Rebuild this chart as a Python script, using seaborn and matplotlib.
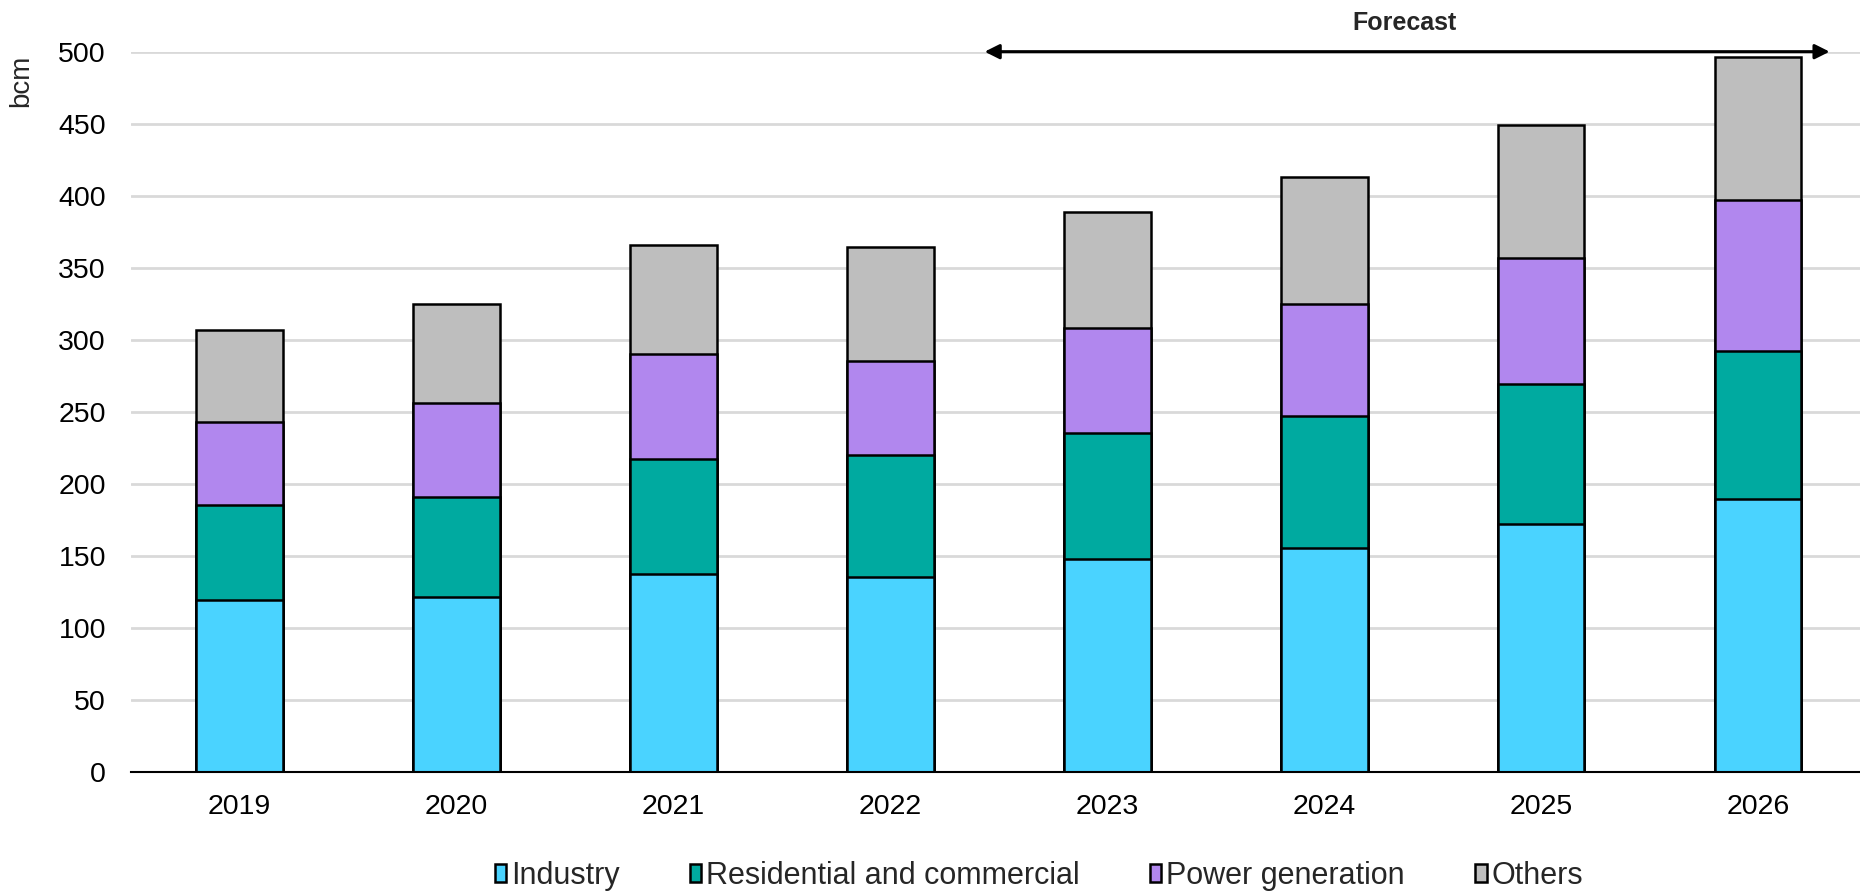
import matplotlib
matplotlib.use("Agg")
import matplotlib.pyplot as plt
from matplotlib.patches import Patch
import seaborn as sns
import numpy as np
import pandas as pd

years = ["2019", "2020", "2021", "2022", "2023", "2024", "2025", "2026"]
industry = [119, 121, 137, 135, 148, 155, 172, 189]
residential = [66, 70, 80, 85, 87, 92, 97, 103]
power = [58, 65, 73, 65, 73, 78, 88, 105]
others = [64, 69, 76, 79, 81, 88, 92, 99]

series_names = ["Industry", "Residential and commercial", "Power generation", "Others"]
colors = ["#4AD3FF", "#00AAA0", "#B187EE", "#BEBEBE"]

sns.set_style("white")
plt.rcParams["font.family"] = ["Liberation Sans", "DejaVu Sans"]

fig = plt.figure(figsize=(18.6, 8.91), dpi=100)
ax = fig.add_axes([0.0704, 0.134, 0.9296, 0.808])

# stacked bars: draw cumulative totals from the top layer down
stack = np.cumsum(np.array([industry, residential, power, others]), axis=0)
for i in range(3, -1, -1):
    df = pd.DataFrame({"year": years, "value": stack[i]})
    sns.barplot(data=df, x="year", y="value", color=colors[i], saturation=1,
                edgecolor="black", linewidth=1.8, width=0.4, ax=ax, zorder=3)

ax.set_ylim(0, 500)
ax.set_xlim(-0.5, 7.47)
ax.set_yticks(np.arange(0, 501, 50))
ax.yaxis.grid(True, color="#D9D9D9", linewidth=2, zorder=0)
ax.set_axisbelow(True)
for s in ["top", "right", "left"]:
    ax.spines[s].set_visible(False)
ax.spines["bottom"].set_color("black")
ax.spines["bottom"].set_linewidth(1.5)
ax.spines["bottom"].set_zorder(5)
ax.tick_params(axis="both", length=0, labelsize=20.5, colors="black")
ax.tick_params(axis="x", pad=16)
ax.tick_params(axis="y", pad=18)
ax.set_xlabel("")
ax.set_ylabel("bcm", fontsize=20)
ax.yaxis.set_label_coords(-0.056, 0.96)

# forecast marker
ax.annotate("", xy=(7.33, 500), xytext=(3.435, 500),
            arrowprops=dict(arrowstyle="<|-|>", color="black", lw=2.2,
                            mutation_scale=22, shrinkA=0, shrinkB=0),
            annotation_clip=False, zorder=6)
ax.text(5.37, 520, "Forecast", ha="center", va="center", fontsize=18,
        fontweight="bold", clip_on=False)

handles = [Patch(facecolor=c, edgecolor="black", linewidth=1.8, label=n)
           for c, n in zip(colors, series_names)]
ax.legend(handles=handles, loc="center", bbox_to_anchor=(0.525, -0.145),
          ncol=4, frameon=False, fontsize=22, handlelength=0.38,
          handleheight=0.5, handletextpad=0.15, columnspacing=2.3)

fig.savefig("out.png", dpi=100)
